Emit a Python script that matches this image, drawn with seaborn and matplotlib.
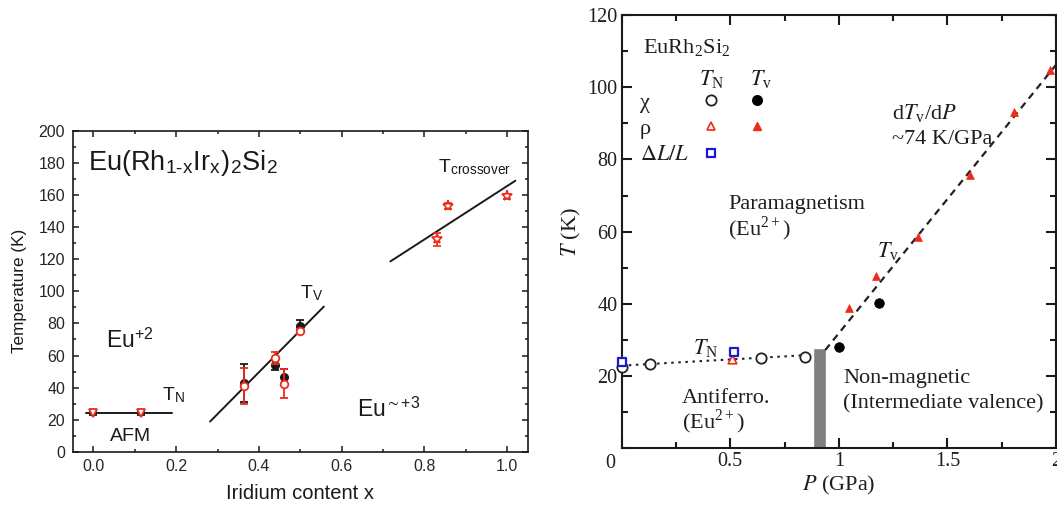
import matplotlib
matplotlib.use("Agg")
import matplotlib.pyplot as plt
import seaborn as sns
from matplotlib.lines import Line2D
from matplotlib.ticker import MultipleLocator

# ---------------- Eu(Rh1-xIrx)2Si2 : characteristic temperatures vs Ir content
tn_x = [0.0, 0.115]
tn_T = [24.0, 24.0]
tn_err = [1.2, 1.2]

tv_x = [0.365, 0.44, 0.46, 0.50]
tv_chi_T = [43.0, 54.0, 46.5, 78.5]
tv_chi_err = [12.0, 3.0, 5.0, 3.5]
tv_rho_T = [41.0, 58.5, 42.3, 75.0]
tv_rho_err = [11.0, 3.5, 9.0, 1.5]

tc_x = [0.83, 0.858, 1.0]
tc_T = [132.5, 153.3, 159.2]
tc_err = [4.0, 2.0, 1.5]

tn_fit_x = [-0.018, 0.19]
tn_fit_T = [24.0, 24.0]
tv_fit_x = [0.282, 0.557]
tv_fit_T = [18.8, 90.5]
tc_fit_x = [0.718, 1.02]
tc_fit_T = [118.7, 169.0]

# ---------------- EuRh2Si2 : pressure phase diagram
tn_chi_P = [0.0, 0.13, 0.642, 0.842]
tn_chi_T = [22.6, 23.3, 24.9, 25.4]
tn_rho_P = [0.0, 0.51]
tn_rho_T = [24.2, 24.7]
tn_dl_P = [0.0, 0.515]
tn_dl_T = [23.8, 26.8]
tv_chi_P = [1.0, 1.187]
tv_chi_Tp = [28.0, 40.2]
tv_rho_P = [1.045, 1.172, 1.364, 1.602, 1.805, 1.974]
tv_rho_Tp = [38.8, 47.6, 58.4, 75.7, 93.0, 104.8]
tn_guide_P = [0.0, 0.88]
tn_guide_T = [22.9, 25.9]
tv_guide_P = [0.937, 2.0]
tv_guide_T = [27.2, 106.2]
pc_range = [0.879, 0.940]
pc_height = 27.9

sns.set_theme(style="ticks")
plt.rcParams["font.family"] = ["Liberation Serif", "DejaVu Serif"]
plt.rcParams["mathtext.fontset"] = "stix"
plt.rcParams["axes.linewidth"] = 1.2

RED = "#ee2a1b"
BLUE = "#1a1ad0"
SANS = "Liberation Sans"
SERIF = "Liberation Serif"
INK = "#1e1e1e"

fig = plt.figure(figsize=(10.57, 5.11), dpi=100)
ax1 = fig.add_axes([0.0688, 0.116, 0.4305, 0.6276])
ax2 = fig.add_axes([0.5882, 0.1227, 0.4109, 0.848])

# ======================= left panel =======================
for xs, ys in [(tn_fit_x, tn_fit_T), (tv_fit_x, tv_fit_T), (tc_fit_x, tc_fit_T)]:
    sns.lineplot(x=xs, y=ys, ax=ax1, color="k", lw=1.4, sort=False)

eb = dict(capsize=2.6, elinewidth=1.3, capthick=1.3)
ax1.errorbar(tn_x, tn_T, yerr=tn_err, fmt="v", color="k", ms=4, **eb)
ax1.errorbar(tn_x, tn_T, fmt="v", ms=6, mfc="white", mec=RED, mew=1.3)
ax1.errorbar(tv_x, tv_chi_T, yerr=tv_chi_err, fmt="o", color="k", ms=5.5, zorder=3, **eb)
ax1.errorbar(tv_x, tv_rho_T, yerr=tv_rho_err, fmt="o", ms=5.5, mfc="white", mec=RED,
             mew=1.3, ecolor=RED, zorder=4, **eb)
ax1.errorbar(tc_x, tc_T, yerr=tc_err, fmt="*", ms=8, mfc="white", mec=RED, mew=1.2,
             ecolor=RED, zorder=4, **eb)

ax1.set_xlim(-0.05, 1.05)
ax1.set_ylim(0, 200)
ax1.set_xticks([0, 0.2, 0.4, 0.6, 0.8, 1.0],
               ["0.0", "0.2", "0.4", "0.6", "0.8", "1.0"], family=SANS, fontsize=11.5)
ax1.set_yticks(range(0, 201, 20), [str(v) for v in range(0, 201, 20)],
               family=SANS, fontsize=11.5)
ax1.xaxis.set_minor_locator(MultipleLocator(0.1))
ax1.yaxis.set_minor_locator(MultipleLocator(10))
ax1.tick_params(which="both", direction="in", top=True, right=True, width=1.1,
                color="k", pad=5.5)
ax1.tick_params(which="major", length=4)
ax1.tick_params(which="minor", length=2.5)
for s in ax1.spines.values():
    s.set_color("k")
    s.set_linewidth(1.2)
ax1.set_xlabel("Iridium content x", family=SANS, fontsize=14.5, labelpad=7, color="k")
ax1.set_ylabel("Temperature (K)", family=SANS, fontsize=12.3, labelpad=8, color="k")

lt = dict(family=SANS, color="k", va="baseline", ha="left")
ax1.text(-0.012, 176, r"Eu(Rh$_{\mathregular{1\text{-}x}}$Ir$_{\mathregular{x}}$)$_{\mathregular{2}}$Si$_{\mathregular{2}}$",
         fontsize=19.5, **lt)
ax1.text(0.832, 174, r"T$_{\mathregular{crossover}}$", fontsize=14, **lt)
ax1.text(0.499, 95.9, r"T$_{\mathregular{V}}$", fontsize=14, **lt)
ax1.text(0.165, 32.3, r"T$_{\mathregular{N}}$", fontsize=14, **lt)
ax1.text(0.030, 64.6, r"Eu$^{\mathregular{+2}}$", fontsize=16.5, **lt)
ax1.text(0.040, 6.9, "AFM", fontsize=14, **lt)
ax1.text(0.636, 21.9, r"Eu$^{\sim\mathregular{+3}}$", fontsize=16.5, **lt)

# ======================= right panel =======================
ax2.bar([(pc_range[0] + pc_range[1]) / 2], [pc_height],
        width=pc_range[1] - pc_range[0], color="#808080", zorder=1)
sns.lineplot(x=tn_guide_P, y=tn_guide_T, ax=ax2, color="#222222", lw=1.5,
             linestyle=(0, (1.2, 2.2)), sort=False, zorder=2)
sns.lineplot(x=tv_guide_P, y=tv_guide_T, ax=ax2, color="#222222", lw=1.6,
             linestyle=(0, (3.2, 2.4)), sort=False, zorder=2)

sc = dict(ax=ax2, clip_on=False)
sns.scatterplot(x=tn_chi_P, y=tn_chi_T, marker="o", s=55,
                facecolor="white", edgecolor="#222222", linewidth=1.3, zorder=3, **sc)
sns.scatterplot(x=tn_rho_P, y=tn_rho_T, marker="^", s=38,
                facecolor="white", edgecolor=RED, linewidth=1.2, zorder=4, **sc)
sns.scatterplot(x=tn_dl_P, y=tn_dl_T, marker="s", s=36,
                facecolor="white", edgecolor=BLUE, linewidth=1.6, zorder=5, **sc)
sns.scatterplot(x=tv_chi_P, y=tv_chi_Tp, marker="o", s=48,
                color="black", edgecolor="black", linewidth=0.5, zorder=3, **sc)
sns.scatterplot(x=tv_rho_P, y=tv_rho_Tp, marker="^", s=32,
                color=RED, edgecolor=RED, linewidth=0.5, zorder=4, **sc)

ax2.set_xlim(0, 2)
ax2.set_ylim(0, 120)
ax2.set_xticks([0, 0.5, 1, 1.5, 2], ["", "0.5", "1", "1.5", "2"],
               family=SERIF, fontsize=14.5, color=INK)
ax2.set_yticks(range(20, 121, 20), [str(v) for v in range(20, 121, 20)],
               family=SERIF, fontsize=14.5, color=INK)
ax2.text(-0.027, -0.012, "0", transform=ax2.transAxes, ha="center", va="top",
         family=SERIF, fontsize=14.5, color=INK)
ax2.xaxis.set_minor_locator(MultipleLocator(0.25))
ax2.yaxis.set_minor_locator(MultipleLocator(10))
ax2.tick_params(which="both", direction="in", top=True, right=True, width=1.5,
                color="k", pad=3)
ax2.tick_params(which="major", length=7)
ax2.tick_params(which="minor", length=4.5)
for s in ax2.spines.values():
    s.set_color("k")
    s.set_linewidth(1.5)
ax2.set_xlabel(r"$P$ (GPa)", family=SERIF, fontsize=16, labelpad=2, color=INK)
ax2.set_ylabel(r"$T$ (K)", family=SERIF, fontsize=16, labelpad=3, color=INK)

rt = dict(family=SERIF, color=INK, va="baseline", ha="left", fontsize=16)
ax2.text(0.10, 109.4, r"EuRh$_{\mathregular{2}}$Si$_{\mathregular{2}}$", **rt)
ax2.text(0.412, 100.6, r"$T_{\mathregular{N}}$", **{**rt, "ha": "center"})
ax2.text(0.642, 100.6, r"$T_{\mathregular{v}}$", **{**rt, "ha": "center"})
ax2.text(0.49, 66.2, "Paramagnetism", **rt)
ax2.text(0.49, 59.1, r"(Eu$^{\mathregular{2+}}$)", **rt)
ax2.text(1.175, 53.1, r"$T_{\mathregular{v}}$", **rt)
ax2.text(1.244, 91.1, r"d$T_{\mathregular{v}}$/d$P$", **rt)
ax2.text(1.244, 84.3, "~74 K/GPa", **rt)
ax2.text(0.33, 26.1, r"$T_{\mathregular{N}}$", **rt)
ax2.text(0.276, 12.5, "Antiferro.", **rt)
ax2.text(0.276, 5.5, r"(Eu$^{\mathregular{2+}}$)", **rt)
ax2.text(1.021, 18.2, "Non-magnetic", **rt)
ax2.text(1.021, 11.1, "(Intermediate valence)", **rt)

# key: probe rows against T_N / T_v columns
blank = Line2D([], [], linestyle="none")
handles = [
    blank, blank, blank,
    Line2D([], [], ls="none", marker="o", ms=7.4, mfc="white", mec="#222222", mew=1.3),
    Line2D([], [], ls="none", marker="^", ms=6.2, mfc="white", mec=RED, mew=1.2),
    Line2D([], [], ls="none", marker="s", ms=6.0, mfc="white", mec=BLUE, mew=1.6),
    Line2D([], [], ls="none", marker="o", ms=6.9, mfc="black", mec="black"),
    Line2D([], [], ls="none", marker="^", ms=5.6, mfc=RED, mec=RED),
]
labels = ["χ", "ρ", r"$\Delta L/L$", "", "", "", "", ""]
ax2.legend(handles, labels, ncol=3, loc="upper left", bbox_to_anchor=(-0.026, 98.6),
           bbox_transform=ax2.transData, frameon=False, borderpad=0, borderaxespad=0,
           handlelength=0, handletextpad=1.08, columnspacing=0.99, labelspacing=0.26,
           prop={"family": SERIF, "size": 16}, labelcolor=INK)

fig.savefig("out.png", dpi=100)
